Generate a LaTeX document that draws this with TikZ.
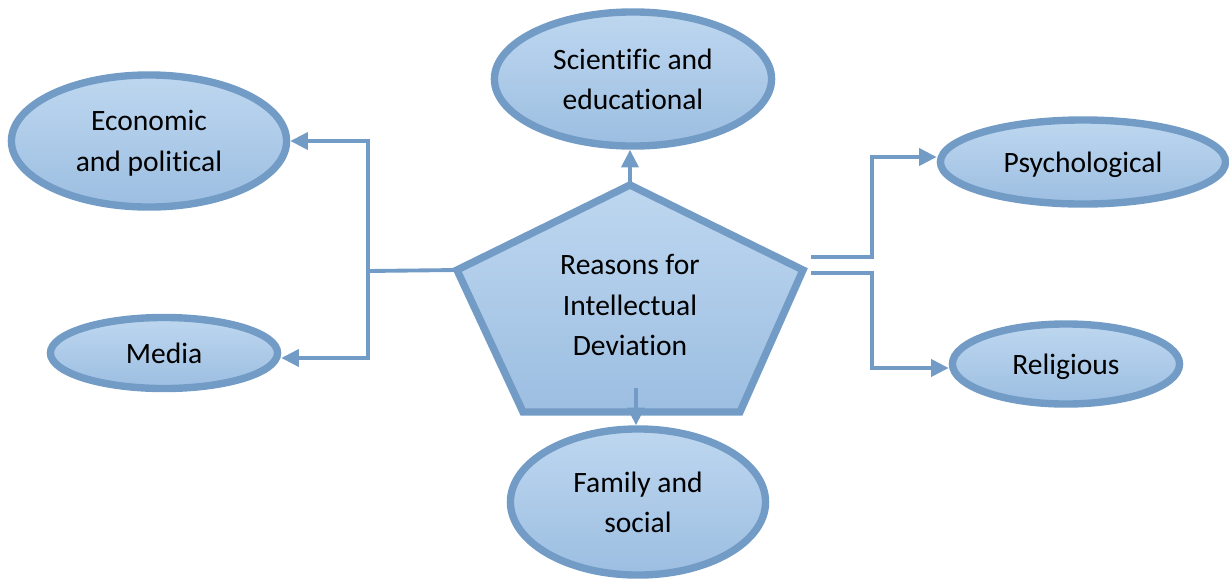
\documentclass[tikz,border=0pt]{standalone}
\usepackage{fontspec}
\setmainfont{Carlito}[Ligatures=NoCommon]
\usetikzlibrary{shapes.geometric,arrows.meta}
\definecolor{edgeblue}{RGB}{114,156,197}
\definecolor{paleblue}{RGB}{190,215,240}
\definecolor{deepblue}{RGB}{156,190,225}
\begin{document}
\begin{tikzpicture}[x=0.01cm, y=-0.01cm, >={Triangle[length=5pt,width=4.8pt]},
        oval/.style={ellipse, draw=edgeblue, line width=2.1pt, top color=paleblue, bottom color=deepblue,
            inner sep=0pt, align=center, text depth=0pt, font=\fontsize{8.4}{11.5}\selectfont},
        link/.style={->, draw=edgeblue, line width=1.1pt}]
        \useasboundingbox (0,0) rectangle (1229,581);
        % centre pentagon
        \coordinate (apex) at (630,185);
        \coordinate (pl) at (457,270);
        \coordinate (pr) at (803,270);
        \draw [edgeblue, line width=2.1pt, top color=paleblue, bottom color=deepblue]
            (apex)--(pr)--(740,412)--(523,412)--(pl)--cycle;
        \node [align=center, font=\fontsize{8.4}{11.5}\selectfont] (core) at (630,305) {Reasons for\\Intellectual\\Deviation};
        % outer ovals
        \node [oval, minimum width=2.77cm, minimum height=1.34cm] (sci) at (633,79) {Scientific and\\educational};
        \node [oval, minimum width=2.75cm, minimum height=1.32cm] (econ) at (149,141) {Economic\\and political};
        \node [oval, minimum width=2.27cm, minimum height=0.71cm] (media) at (164,353) {Media};
        \node [oval, minimum width=2.85cm, minimum height=0.84cm] (psych) at (1083,162) {Psychological};
        \node [oval, minimum width=2.27cm, minimum height=0.80cm] (relig) at (1066,364) {Religious};
        \node [oval, minimum width=2.55cm, minimum height=1.46cm] (family) at (638,502) {Family and\\social};
        % connectors
        \coordinate (hl) at (368,271);
        \coordinate (hr) at (872,265);
        \coordinate (r1) at (811,257);
        \coordinate (r2) at (811,273);
        \coordinate (b0) at (636,388);
        \draw [link] (apex)--(apex |- sci.south);
        \draw [link] (b0)--(b0 |- family.north);
        \draw [link] (pl)--(hl) |- (econ.east |- 0,141);
        \draw [link] (hl) |- (media.east |- 0,358);
        \draw [link] (r1)--(r1 -| hr) |- (psych.west |- 0,157);
        \draw [link] (r2)--(r2 -| hr) |- (relig.west |- 0,368);
\end{tikzpicture}
\end{document}
